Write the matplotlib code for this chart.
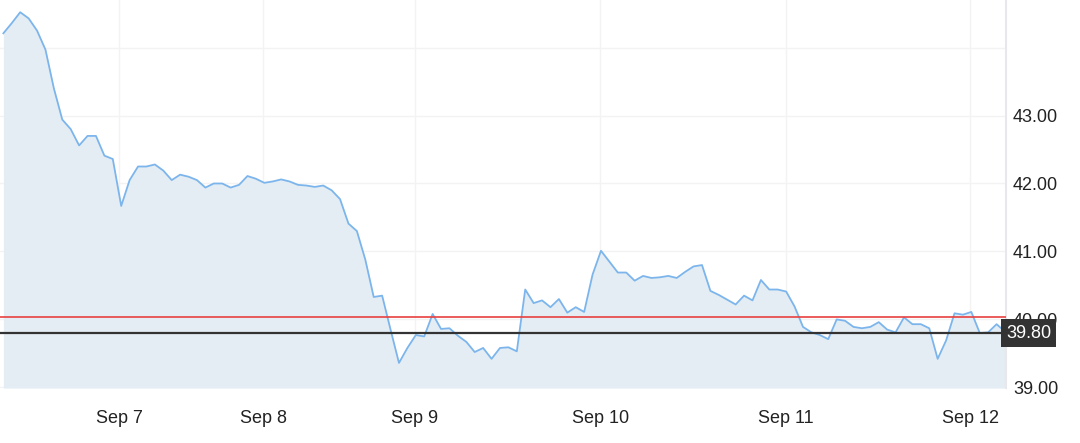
#!/usr/bin/env python3

import matplotlib
matplotlib.use("Agg")
import matplotlib.pyplot as plt

plt.rcParams['font.family'] = ['Liberation Sans', 'DejaVu Sans']

# Price series (one point per interval)
prices = [
    44.21, 44.36, 44.52, 44.43, 44.25, 43.97, 43.40, 42.94, 42.80, 42.56,
    42.70, 42.70, 42.41, 42.36, 41.67, 42.05, 42.25, 42.25, 42.28, 42.19,
    42.05, 42.13, 42.10, 42.05, 41.94, 42.00, 42.00, 41.94, 41.98, 42.11,
    42.07, 42.01, 42.03, 42.06, 42.03, 41.98, 41.97, 41.95, 41.97, 41.90,
    41.77, 41.41, 41.30, 40.88, 40.33, 40.35, 39.85, 39.36, 39.58, 39.77,
    39.75, 40.08, 39.86, 39.87, 39.76, 39.67, 39.52, 39.58, 39.42, 39.58,
    39.59, 39.53, 40.44, 40.24, 40.28, 40.18, 40.30, 40.10, 40.18, 40.11,
    40.66, 41.01, 40.85, 40.69, 40.69, 40.57, 40.64, 40.61, 40.62, 40.64,
    40.61, 40.70, 40.78, 40.80, 40.42, 40.36, 40.29, 40.22, 40.35, 40.28,
    40.58, 40.44, 40.44, 40.41, 40.19, 39.89, 39.81, 39.77, 39.71, 40.00,
    39.98, 39.89, 39.87, 39.89, 39.96, 39.85, 39.81, 40.03, 39.93, 39.93,
    39.87, 39.42, 39.69, 40.09, 40.07, 40.11, 39.80, 39.81, 39.93, 39.82,
]

# Day labels and where they fall along the series index
day_labels = ["Sep 7", "Sep 8", "Sep 9", "Sep 10", "Sep 11", "Sep 12"]
day_positions = [13.78, 30.88, 48.9, 70.9, 92.96, 114.9]

price_ticks = [39, 40, 41, 42, 43]
grid_levels = [39, 40, 41, 42, 43, 44]

reference_price = 40.04   # red line
last_price = 39.80        # black line + label

y_min, y_max = 38.99, 44.70


def main():
    fig = plt.figure(figsize=(10.8, 4.43), dpi=100)
    ax = fig.add_axes([0.0, 0.124, 0.9315, 0.876])

    x = list(range(len(prices)))

    # very light grid
    for lvl in grid_levels:
        ax.axhline(lvl, color="#f3f3f3", lw=1.0, zorder=0)
    for pos in day_positions:
        ax.axvline(pos, color="#f3f3f3", lw=1.0, zorder=0)

    ax.fill_between(x, prices, y_min, color="#e4edf3", lw=0, zorder=1)
    ax.plot(x, prices, color="#7cb5ec", lw=1.3, zorder=3)

    ax.axhline(reference_price, color="#e8413f", lw=1.2, zorder=4)
    ax.axhline(last_price, color="#333333", lw=1.6, zorder=4)

    ax.set_xlim(-0.4, len(prices) - 1 + 0.12)
    ax.set_ylim(y_min, y_max)

    ax.set_xticks(day_positions)
    ax.set_xticklabels(day_labels, fontsize=13, color="#222222")
    ax.yaxis.tick_right()
    ax.set_yticks(price_ticks)
    ax.set_yticklabels(["%.2f" % v for v in price_ticks], fontsize=13, color="#222222")
    ax.tick_params(axis="x", length=0, pad=16)
    ax.tick_params(axis="y", length=0, pad=5)

    for side in ["top", "left", "bottom"]:
        ax.spines[side].set_visible(False)
    ax.spines["right"].set_color("#e8e8ec")
    ax.spines["right"].set_linewidth(1.5)

    # last price tag on the axis (sits over the 40.00 label, as in the original)
    ax.text(1.0, last_price, "%.2f" % last_price, transform=ax.get_yaxis_transform(),
            ha="left", va="center", fontsize=13, color="white", zorder=6,
            bbox=dict(boxstyle="square,pad=0.28", fc="#333333", ec="none"))

    fig.savefig("out.png", dpi=100)


if __name__ == "__main__":
    main()
